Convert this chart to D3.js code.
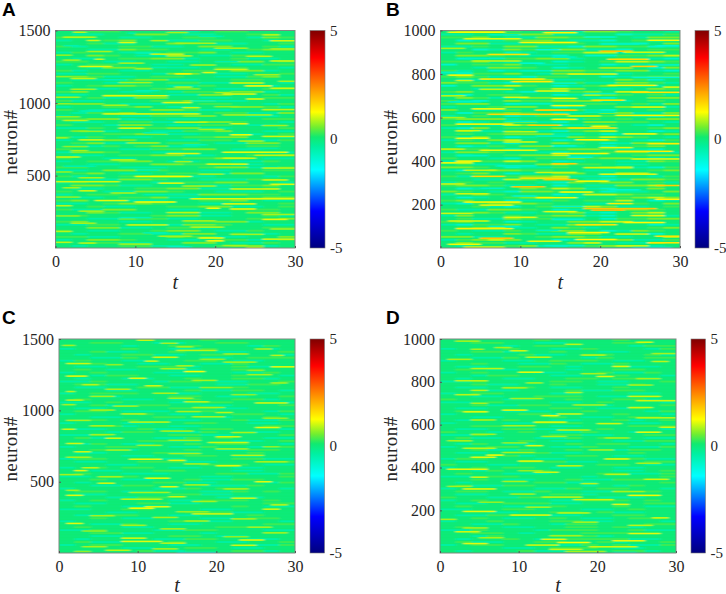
<!DOCTYPE html>
<html>
<head>
<meta charset="utf-8">
<script src="https://cdn.jsdelivr.net/npm/d3@7"></script>
<style>
  html, body { margin: 0; padding: 0; background: #fff; }
  svg { display: block; }
</style>
</head>
<body>
<div id="chart-container"></div>
<script>
// tick labels
const xTicks = [0, 10, 20, 30];
const yTicksLong = [500, 1000, 1500];
const yTicksShort = [200, 400, 600, 800, 1000];
const barTicks = [-5, 0, 5];

// colour bar: value -> colour
const barValues = [-5, -3.3, -1.4, -0.35, 0.1, 0.55, 1.25, 2.2, 3.75, 5];
const barColours = ['#00007f', '#0000ff', '#00ffff', '#00f0a0', '#10ea70', '#70ee30', '#ffff00', '#ffa000', '#ff0000', '#7f0000'];

// coarse activity level per row (top to bottom) and per 2 time units, estimated by eye
const levelValues = [-0.8, -0.4, 0.02, 0.3, 0.6, 0.95];

const gridA = [
  '223322211233222','211224421122332','332211223322143','122342211332212','223112243211223','312233112442231',
  '221143322112344','132211233421122','224321122113322','211233441223112','332112211234423','123322112221133',
  '221443211233221','312211223324412','113322144211223','243112332211342','211234411223322','322112233114421',
  '123443211322112','221122344211233','342211213324412','112332211442231','223114422112233','311222334411222',
  '244211122332213','122334211224431','321122443112232','213342211233114','122211334422112','334412211222233',
  '211233112443221','322144211332112','113223344112223','241122113342211','222334411221123','313211223344221',
  '122442211332113','234112233211442','211323411222332','322211334421122','144322112223311','211233441122334',
  '322112223344211','123344211221132','221122443321122','332211122344113','112443322112233','234211233114422',
  '312233441122213','221144322111332','132222113344221','244311222113342','211223344112232','322114432211123',
  '123322211444332','211233411222344','342211122334211','112344322112223','223112233441123','311442211223332',
  '224311223112442','132222344112231','221143311222334','342211223344122','113322114432211','224411233122233',
  '321122344211322','212233114423112','331122243311224','124432211233113','223311224421132','212233112234412'
];

const gridB = [
  '244432211443221','112244411220113','334211443322144','201134421102301','244112333211024','113244110443301',
  '220143344110233','132201233551102','244321102003345','201233441223110','334102201235543','023342112201133',
  '221443201233204','312011244334410','103342144201223','343110332201344','201234411224302','433102233114431',
  '024453201342112','221122354211243','342210213425512','102332201543231','243114432102244','310243344411232',
  '344201122332314','122344201224441','421132443102232','203343201244114','123201335532102','344412201323244',
  '201244102443321','322154201332102','104233344112234','241132103452201','232344411201134','314201224354321',
  '132452201342103','244102243201443','201324411202342','433201334431102','144322102234411','201234451122344',
  '322102334344201','123354201221143','231122453321122','443201132345103','102443322112234','234201244215522',
  '312234451102213','221154322101443','132322104344231','344311202114452','201224354102242','432104432201124',
  '124322201554332','201234411223454','342201132335201','103444322112324','223102344541123','311443201224432',
  '224311234102452','142232344102241','231143311203344','342201224455122','103342114432201','234511243122234',
  '321132344201432','212243114423102','441122344311225','134542201234113','243311224521142','212234102345512'
];

const gridC = [
  '222223222322222','223322112233222','222212233222132','122232211322212','223112232211223','212233112332221',
  '221132222112333','132211223321122','223221122113222','211223331223112','232112211223322','123222112221132',
  '221332211223221','212211223223312','113222133211223','233112222211332','211223311223222','222112223113321',
  '123332211222112','221122233211223','232211213223312','112322211332221','223113322112223','211222233311222',
  '233211122322213','122223211223321','221122332112232','213232211223113','122211223322112','223312211222233',
  '211223112332221','222133211322112','113222233112223','231122113232211','222223311221123','213211223233221',
  '122332211322113','223112223211332','211222311222322','222211223321122','133222112223311','211223331122233',
  '222112222333211','123233211221122','221122332221122','232211122233113','112332222112223','223211223113322',
  '212222331122213','221133222111322','122222113233221','233211222113232','211222233112222','222113322211122',
  '123222211333232','211223311222233','232211122223211','112233222112222','222112223331122','211332211222322',
  '223211222112332','122222233112221','221132211222233','232211222233122','113222113322211','223311222122222',
  '221122233211222','212222113322112','231122232211223','123322211222113','222211223321122','212223112223312'
];

const gridD = [
  '222222322223222','223322112223322','222212332222133','122232211322213','223312232211222','212223112332231',
  '221132222132233','122211233321122','223221132113222','211223321223112','232112221223322','123222112231132',
  '221332211223221','212211223323312','113222233211223','223112232211322','211233211223222','222112223113322',
  '123322211222112','221122333211222','322211223223312','112322211232221','223113322112223','211222233211322',
  '233211122322213','122223311223221','221122232112332','213232211223123','122211333222112','223312211222333',
  '211233112232221','322123211322122','113222233112233','231122113232211','232223211221133','213211223233221',
  '122332211322113','223113223211332','211222311222322','222231223321122','133222112223311','211223331122233',
  '322112222233211','123233211221122','221322322221123','232211122233113','112332222122223','223211223113322',
  '212222331122223','231133222121322','122222113233221','233211322113232','211222233122222','322113322211122',
  '123222211333232','211233311222233','232211132223211','112233222112322','222112233231122','211332211223322',
  '223211232112332','122322233112221','221132213322233','232211223323122','113222133322311','223321222333222',
  '221322233312222','212232113333112','231122332231223','123322211323113','222211233321122','212223112223312'
];

// streaks: [neuron, t start, t end, value]
const streaksA = [
  [1488,2.3,3.8,.9],[1486,14,16.5,.8],[1482,9,10,-.5],[1470,26,28,.9],[1460,18,21,-.5],[1454,1,5,.9],[1431,4,5.5,1],[1430,12,14,.8],[1429,27,30,1],
  [1417,8,10,1.1],[1412,15,20,.8],[1395,1,3,-.5],[1378,20,24,.8],[1373,27,30,.8],[1355,4,7,.8],[1345,10,13,-.6],[1337,12,16,1],[1330,0,2,.7],[1325,14,17,.9],[1322,24,27,.9],
  [1302,5,6,1],[1296,1,3,.8],[1290,27,30,1],[1285,20,23,-.5],[1275,8,11,.8],[1262,17,20,.8],[1252,3,7,1.1],[1245,12,14,-.5],[1236,10,12,.8],[1232,20,24,1],
  [1210,18.5,20,1.1],[1201,15,17,1.3],[1195,25,28,.8],[1182,0,2,.7],[1169,2,5,.9],[1160,6,9,-.6],[1150,28,30,.8],[1141,8,12,.8],[1138,22,26,.9],
  [1118,23.8,27,1.3],[1110,15,17,.9],[1102,27,30,1],[1095,2,5,.8],[1085,10,13,-.6],[1072,20,22,.8],[1062,21,25,1.1],[1050,6,14,1.1],[1040,0,3,.8],[1028,24,26,1.1],[1015,17,20,-.6],
  [1003,13.5,17,1.1],[995,0,2,.7],[985,6,9,.8],[975,20,23,.7],[968,16,18,1],[955,26,30,.9],[945,3,6,-.6],[925,6,18,1.1],[918,21,27,.8],[905,0,3,.7],
  [888,9,12,-.5],[880,1,4,.9],[868,15,19,.9],[857,22,24,1.1],[845,26,29,.8],[827,8,11,1.1],[818,18,21,.8],[805,3,6,.7],[795,11,14,-.6],[781,22,24.5,1.2],[770,26,30,1],
  [760,0,1.5,.8],[746,3,6,1],[738,23,26,.8],[725,9,13,.8],[712,16,19,-.6],[700,1,4,.7],[688,24,28,-.4],[672,2,4,.8],[661,21,29,1.1],[652,14,18,1.1],
  [640,25,30,.9],[628,0,3,1],[620,21,25,1],[608,7,10,.9],[596,15,17,.8],[579,19,24,1.1],[565,1,5,-.5],[552,26,30,.9],[538,10,13,-.6],[525,0,2,.7],
  [510,18,21,.8],[494,10,17,1.2],[485,3,6,.8],[470,26,29,1],[458,0,8,1],[448,13,16,1.1],[440,27,30,1.1],[428,16,20,.8],[416,1,3,.8],[408,22,28,1],
  [395,3,5,1],[380,7,10,.8],[368,11,14,-.5],[352,0,3,.7],[340,17,30,1.1],[328,5,9,1.1],[318,10,15,1.2],[305,21,25,1.1],[292,0,2,.9],[275,19,20.5,1.2],[270,22,25,1.1],
  [255,3,6,.8],[245,14,18,.9],[232,26,30,.8],[222,0,3,.7],[210,8,12,-.6],[198,26,29,1.1],[188,16,20,.8],[172,2,5,.8],[160,9,14,1],[145,17,21,.9],[132,27,30,.8],
  [115,0,2,.9],[105,11,14,-.6],[95,22,26,.8],[82,13,17,.8],[70,18,21,1.2],[62,26,30,1],[50,19,21,1.3],[40,0,2,.9],[35,3,5,.9],[28,8,12,.8],[18,21,24,.8],[8,14,17,-.8],[4,24,26,1]
];

const streaksB = [
  [992,1,8,1.2],[990,13,17,1.3],[980,6,10,-.7],[970,18,22,-.9],[962,3,10,1.1],[955,26,30,1.2],[945,10,17,1.3],[938,20,25,-.8],[930,27,30,-.9],[918,0,3,.8],
  [912,12,15,-1],[905,20,24,1.8],[900,23,28,1],[890,6,11,1.5],[878,14,17,-.7],[872,3,8,-.7],[868,21,26,1.6],[860,4,10,.9],[850,10,13,-.9],[842,26,30,-.8],
  [835,24,27,1.7],[828,20,24,.8],[815,10,14,-.7],[808,0,4,-.7],[800,16,22,1.1],[795,1,4,1.3],[785,24,30,-.9],[777,5,13,1.4],[770,2,4,1],[765,9,14,1.4],[758,14,17,-.8],
  [748,21,27,1.3],[740,28,30,1.1],[730,5,9,.9],[722,12,16,1.1],[716,24,30,1.5],[710,18,22,-.7],[700,0,3,.9],[693,8,11,1.1],[688,14,17,1.2],[680,19,23,1.5],[672,1,5,-.8],[664,10,14,-.7],
  [655,14,18,1.2],[648,24,28,1],[640,4,8,1.2],[634,12,17,1.7],[625,18,22,-.6],[615,6,16,1.6],[610,22,30,1.3],[600,0,3,.8],[592,14,17,1.3],[582,8,12,-.8],[570,2,9,1.3],
  [565,11,15,1.7],[560,19,21,1.2],[552,16,22,1.5],[540,2,5,1],[535,8,12,.9],[525,23,27,1.2],[515,12,16,-.7],[505,2,6,1.2],[498,17,21,1.3],[488,8,12,1],[480,26,30,1.4],
  [470,14,17,-.9],[462,20,24,1.1],[455,0,3,.9],[450,5,12,1.1],[445,22,29,1.4],[435,14,21,1.2],[425,2,6,-.7],[418,16,19,-.9],[410,24,30,1.1],[400,2,5,1.3],[392,0,4,1.2],[388,14,17,1.7],
  [378,7,12,-.8],[370,18,24,1],[358,3,7,.9],[348,12,17,1],[340,20,27,1.1],[330,4,8,1.6],[322,10,16,1.5],[315,13,17,1.8],[308,17,21,1.2],[295,0,3,1],[288,27,30,1.7],[282,9,13,1.8],
  [275,5,8,-.7],[268,21,25,-.9],[258,15,19,1.2],[250,2,6,1],[240,9,12,-.8],[232,12,17,1.2],[225,27,30,1.3],[212,3,10,1.3],[205,21,24,1.4],[198,5,9,1.1],[192,14,18,-.8],
  [182,18,27,1.8],[175,19,23,1.9],[168,13,17,1.1],[160,0,4,1],[150,24,28,1.1],[142,8,12,1.1],[132,14,18,-.8],[125,1,6,1],[118,23,28,1.3],[108,17,22,1.5],[100,6,10,-.7],
  [90,2,9,1.4],[82,12,15,-.7],[72,16,21,1.3],[65,22,26,1],[55,27,30,1.5],[46,5,9,1.8],[40,17,22,1.3],[32,11,15,1.1],[25,26,30,1.5],[18,1,5,1.2],[12,13,18,-.8],[5,3,8,1.1],[3,24,29,-1]
];

const streaksC = [
  [1492,10,12,1],[1470,13,15,.8],[1455,.5,2,.8],[1445,15,17,.8],[1430,25,27,.8],[1420,15,20,.9],[1395,21,24,.8],[1385,27,28.5,.9],[1372,12,15,1],
  [1358,18,21,.7],[1345,11,12.5,1],[1338,21,25,.8],[1328,1,4,1],[1320,6,8,.7],[1312,15,17,.8],[1305,27,30,1.1],[1292,13,16,.8],[1280,24,26,.7],[1272,16,18.5,1.2],
  [1250,24,27,.8],[1240,1,3.5,1.1],[1225,9,11,1.1],[1210,17,20,.8],[1192,27,29,.8],[1180,3,5,.9],[1172,11,13,1],[1160,18,22,.7],[1148,6,9,.8],[1132,1,2,.9],
  [1120,12,15,.8],[1110,22,25,.7],[1098,4,7,.8],[1085,14,17,.8],[1072,1,3,.9],[1060,16,19,.9],[1052,25,29,1],[1040,.5,2,.8],[1030,7,10,.8],[1020,17,21,.8],
  [1002,4,7,.8],[992,15,18,.8],[985,20,22,.9],[975,8,11,.9],[955,17,21,.8],[945,26,29,.7],[930,1,4,.8],[918,9,14,.9],[892,4,7,.8],[880,25,28,1.1],[868,.5,2,1],
  [855,13,17,.8],[845,22,25,.8],[830,4,7,.8],[815,20,23,1],[805,6,8,1],[790,14,18,.8],[775,19,24,1],[768,1,3,1],[755,10,13,.8],[745,26,28,.7],
  [730,20,24,.8],[722,6,9,.8],[710,2,4,1],[698,14,18,.8],[685,22,26,.9],[672,1,4,.8],[658,9,13,1.1],[650,14,16,1.1],[640,25,29,.8],[625,16,19,.8],[612,20,23,1.1],[598,3,5,.9],
  [578,2,3.5,1.1],[550,0,3,.8],[535,5,8,.8],[525,11,14,1.1],[500,25,27,1.1],[490,5,7,1],[478,16,19,.8],[465,13,15,1.1],[450,21,24,.8],
  [440,1,2.5,.8],[425,9,14,.8],[405,1,3,1.1],[395,14,16,1],[385,22,25,1],[378,8,13,.9],[362,17,20,.8],[338,27,29,.9],[325,11,14,1.1],[315,9,12,1.2],
  [308,26,28,1],[290,15,19,.7],[275,17,22,1],[262,4,7,.8],[250,12,15,.8],[240,22,25,.8],[225,16,19,.8],[208,1,3,1.1],[195,8,11,.8],[182,24,27,.8],[170,13,16,.8],
  [155,3,6,.7],[142,26,29,.8],[115,21,24,.7],[105,8,11,1],[92,23,26,1.1],[82,8,13,1.1],[70,13,16,.9],[55,22,25,1],[45,3,6,.8],[30,12,15,.8],[20,6,9,.9],[12,2,4,.7],[4,15,20,-1]
];

const streaksD = [
  [990,2,5,.8],[985,25,27,1],[975,16,18,.9],[960,7,9,.8],[952,4,5.5,.8],[945,9,11,1],[932,27,30,.8],[925,18,21,.9],[915,11,14,.9],[905,1,4,.8],[895,27,29,.9],
  [872,22,24,1.1],[862,4,8,.9],[845,10,13,1.1],[838,18,21,.8],[825,20,22,1.1],[815,25,28,.8],[805,2,6,.9],[795,11,13,.8],[785,24,27,.8],
  [772,8,11,.8],[760,4,6,.9],[750,16,18,.9],[740,2,5,.9],[732,24,28,1],[722,9,13,.8],[712,25,30,1],[700,4,6,.8],[692,17,21,.8],[680,24,27,1],[668,8,11,1.1],[660,3,6,1.1],
  [650,15,18,1],[642,13,15,1.2],[632,25,30,.9],[622,4,7,.8],[612,12,16,1.1],[605,20,23,1],[595,8,12,.8],[588,28,30,1],[575,15,19,.9],[565,25,28,1.1],[555,4,7,.8],[545,13,16,.8],
  [538,21,24,.8],[525,1,4,.8],[515,8,11,.7],[502,11,13,1.1],[490,3,7,.9],[482,19,22,.8],[470,8,12,.8],[458,6,8,1.2],[448,4,7,1.1],[440,21,24,1.1],[430,10,13,1.1],[420,25,28,.8],[408,15,18,.9],
  [392,1,6,1.1],[385,10,13,.7],[378,12,15,1],[368,21,24,.9],[355,4,6,1],[345,26,29,1],[335,8,11,.8],[325,18,20,.9],[312,1,4,.8],[300,3,7,1.1],[288,22,26,.8],[276,9,12,.8],[270,24,28,1.2],
  [262,13,18,.9],[250,17,22,1],[238,5,8,.7],[228,22,24,1.1],[215,11,14,.8],[195,3,7,1.1],[188,15,19,.9],[178,9,14,1.1],[165,27,29,1],[158,0,2,.8],[145,17,20,.8],[130,24,27,.9],
  [118,3,6,.8],[100,2,5,1],[92,24,28,1.1],[82,14,18,.8],[72,5,8,.8],[65,13,16,1.1],[58,22,26,1.1],[50,15,19,1.2],[45,3,6,1.1],[38,11,15,1],[30,19,25,1],[18,14,18,1],[8,16,21,.8],[4,22,25,-.6]
];

// overall dimensions
const svgWidth = 726;
const svgHeight = 594;

const panels = [
  {name: 'A', grid: gridA, streaks: streaksA, yTicks: yTicksLong, top: 1500, left: 55.5, right: 295, y0: 30.5, y1: 248, barLeft: 310, barRight: 325, letterX: 2, letterY: 16, labelX: 17, tY: 289},
  {name: 'B', grid: gridB, streaks: streaksB, yTicks: yTicksShort, top: 1000, left: 440.5, right: 680, y0: 30.5, y1: 248, barLeft: 695, barRight: 709, letterX: 386, letterY: 16, labelX: 397, tY: 289},
  {name: 'C', grid: gridC, streaks: streaksC, yTicks: yTicksLong, top: 1500, left: 59, right: 295, y0: 339, y1: 553, barLeft: 310, barRight: 324.5, letterX: 2, letterY: 324, labelX: 17, tY: 592},
  {name: 'D', grid: gridD, streaks: streaksD, yTicks: yTicksShort, top: 1000, left: 440, right: 676, y0: 339, y1: 553, barLeft: 691, barRight: 705.5, letterX: 386, letterY: 324, labelX: 397, tY: 592}
];

const colour = d3.scaleLinear().domain(barValues).range(barColours).clamp(true);

const svg = d3.select('#chart-container')
    .append('svg')
    .attr('width', svgWidth)
    .attr('height', svgHeight);

const defs = svg.append('defs');

// the picture is a little soft
defs.append('filter')
    .attr('id', 'soft')
    .attr('x', '-3%').attr('y', '-3%').attr('width', '106%').attr('height', '106%')
    .append('feGaussianBlur')
    .attr('stdDeviation', '1.6 0.45');

const gradient = defs.append('linearGradient')
    .attr('id', 'bar-gradient')
    .attr('x1', 0).attr('y1', 1).attr('x2', 0).attr('y2', 0);

gradient.selectAll('stop')
    .data(barValues)
    .enter()
    .append('stop')
    .attr('offset', function(d) { return (d + 5) / 10; })
    .attr('stop-color', function(d) { return colour(d); });

const serif = '"Liberation Serif", "DejaVu Serif", serif';

panels.forEach(function(p, i) {
  const x = d3.scaleLinear().domain([0, 30]).range([p.left, p.right]);
  const y = d3.scaleLinear().domain([1, p.top]).range([p.y1, p.y0]);
  const c = d3.scaleLinear().domain([-5, 5]).range([p.y1, p.y0]);

  // cells of the coarse grid
  const rowBand = d3.scaleBand().domain(d3.range(p.grid.length)).range([p.y0, p.y1]);
  const colBand = d3.scaleBand().domain(d3.range(p.grid[0].length)).range([p.left, p.right]);

  const cells = [];
  p.grid.forEach(function(row, r) {
    row.split('').forEach(function(level, k) {
      cells.push({r: r, k: k, value: levelValues[+level]});
    });
  });

  const chart = svg.append('g').attr('id', 'panel-' + p.name);

  defs.append('clipPath')
      .attr('id', 'clip-' + i)
      .append('rect')
      .attr('x', p.left).attr('y', p.y0)
      .attr('width', p.right - p.left).attr('height', p.y1 - p.y0);

  const heat = chart.append('g')
      .attr('clip-path', 'url(#clip-' + i + ')')
      .append('g')
      .attr('filter', 'url(#soft)');

  heat.append('rect')
      .attr('x', p.left - 6).attr('y', p.y0 - 6)
      .attr('width', p.right - p.left + 12).attr('height', p.y1 - p.y0 + 12)
      .attr('fill', colour(0.05));

  heat.selectAll('.cell')
      .data(cells)
      .enter()
      .append('rect')
      .attr('class', 'cell')
      .attr('x', function(d) { return colBand(d.k); })
      .attr('y', function(d) { return rowBand(d.r); })
      .attr('width', colBand.bandwidth() + 0.5)
      .attr('height', rowBand.bandwidth() * 0.62)
      .attr('fill', function(d) { return colour(d.value); });

  heat.selectAll('.streak')
      .data(p.streaks)
      .enter()
      .append('rect')
      .attr('class', 'streak')
      .attr('x', function(d) { return x(d[1]); })
      .attr('y', function(d) { return y(d[0]) - 0.8; })
      .attr('width', function(d) { return x(d[2]) - x(d[1]); })
      .attr('height', 1.6)
      .attr('fill', function(d) { return colour(d[3]); });

  // box and inward ticks
  chart.append('rect')
      .attr('x', p.left).attr('y', p.y0)
      .attr('width', p.right - p.left).attr('height', p.y1 - p.y0)
      .attr('fill', 'none')
      .attr('stroke', '#7d8a80')
      .attr('stroke-width', 1);

  const bottom = chart.append('g')
      .attr('transform', 'translate(0,' + p.y1 + ')')
      .call(d3.axisBottom(x).tickValues(xTicks).tickSizeInner(-2).tickSizeOuter(0).tickPadding(8).tickFormat(d3.format('d')));

  const left = chart.append('g')
      .attr('transform', 'translate(' + p.left + ',0)')
      .call(d3.axisLeft(y).tickValues(p.yTicks).tickSizeInner(-2).tickSizeOuter(0).tickPadding(5).tickFormat(d3.format('d')));

  [bottom, left].forEach(function(a) {
    a.select('.domain').remove();
    a.selectAll('.tick line').attr('stroke', '#555');
    a.selectAll('text').attr('font-family', serif).attr('font-size', 16).attr('fill', '#262626');
  });

  chart.append('text')
      .attr('x', (p.left + p.right) / 2)
      .attr('y', p.tY)
      .attr('text-anchor', 'middle')
      .attr('font-family', serif)
      .attr('font-style', 'italic')
      .attr('font-size', 20)
      .attr('fill', '#262626')
      .text('t');

  chart.append('text')
      .attr('transform', 'translate(' + p.labelX + ',' + ((p.y0 + p.y1) / 2 + 3) + ') rotate(-90)')
      .attr('text-anchor', 'middle')
      .attr('font-family', serif)
      .attr('font-size', 19)
      .attr('letter-spacing', 0.4)
      .attr('fill', '#262626')
      .text('neuron#');

  chart.append('text')
      .attr('x', p.letterX)
      .attr('y', p.letterY)
      .attr('font-family', '"Liberation Sans", Arial, sans-serif')
      .attr('font-weight', 'bold')
      .attr('font-size', 19)
      .attr('fill', '#000')
      .text(p.name);

  // colour bar
  chart.append('rect')
      .attr('x', p.barLeft).attr('y', p.y0)
      .attr('width', p.barRight - p.barLeft).attr('height', p.y1 - p.y0)
      .attr('fill', 'url(#bar-gradient)')
      .attr('stroke', '#777')
      .attr('stroke-width', 0.6);

  chart.selectAll('.bar-label')
      .data(barTicks)
      .enter()
      .append('text')
      .attr('class', 'bar-label')
      .attr('x', p.barRight + 5)
      .attr('y', function(d) { return c(d) + 5; })
      .attr('font-family', serif)
      .attr('font-size', 15)
      .attr('fill', '#262626')
      .text(function(d) { return d; });
});
</script>
</body>
</html>
